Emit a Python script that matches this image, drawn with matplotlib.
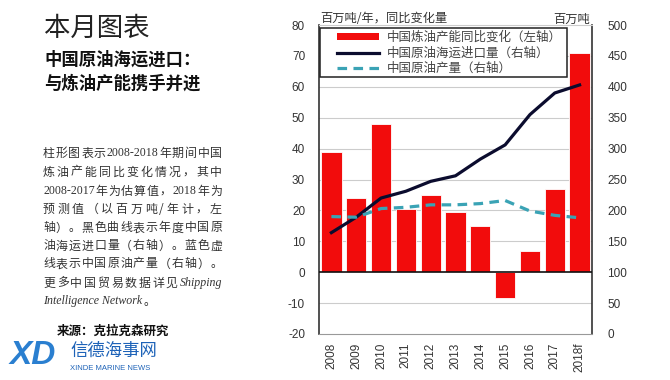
import matplotlib
matplotlib.use("Agg")
from matplotlib import pyplot as plt
from matplotlib.patches import Patch, Rectangle
from matplotlib.lines import Line2D
from matplotlib.font_manager import FontProperties

plt.rcParams['font.family'] = ['Liberation Sans', 'Noto Sans CJK SC', 'DejaVu Sans']

# data
years = ['2008', '2009', '2010', '2011', '2012', '2013', '2014', '2015', '2016', '2017', '2018f']
capacity_change = [39, 24, 48, 20.5, 25, 19.5, 15, -8.3, 6.8, 27, 70.8]      # left axis
seaborne_imports = [164, 189, 220, 231, 247, 256, 283, 306, 355, 390, 403]  # right axis
crude_output = [190, 189, 203, 205, 209, 209, 211, 216, 199, 192, 188]       # right axis

cjk = ['Noto Sans CJK SC', 'DejaVu Sans']
red = '#f20c0c'
navy = '#0b0c2e'
teal = '#3aa3b5'
W, H = 670, 380

fig = plt.figure(figsize=(6.7, 3.8), dpi=100)
fig.patch.set_facecolor('white')
renderer = fig.canvas.get_renderer()


def px(xp, yp):
    return xp / W, 1 - yp / H


# ---- left text panel ----
fig.text(*px(44, 28), '本月图表', family=cjk, fontsize=19, color='#222222', va='center')
fig.text(*px(44, 60), '中国原油海运进口：', family=cjk, fontsize=12.5,
         fontweight='bold', color='#111111', va='center')
fig.text(*px(44, 84), '与炼油产能携手并进', family=cjk, fontsize=12.5,
         fontweight='bold', color='#111111', va='center')

para = ['柱形图表示|2008-2018|年期间中国',
        '炼油产能同比变化情况，其中',
        '2008-2017|年为估算值，|2018|年为',
        '预测值（以百万吨/年计，左',
        '轴）。黑色曲线表示年度中国原',
        '油海运进口量（右轴）。蓝色虚',
        '线表示中国原油产量（右轴）。',
        '更多中国贸易数据详见|*Shipping']
ys = [153, 172, 191, 209, 228, 246, 264, 283]
fs = 8.6
p_cjk = FontProperties(family=cjk, size=fs)
p_lat = FontProperties(family=['Liberation Serif', 'DejaVu Serif'], size=fs)
p_ita = FontProperties(family=['Liberation Serif', 'DejaVu Serif'], style='italic', size=fs)
x0, x1 = 43, 222


def tokens(line):
    out = []
    for part in line.split('|'):
        if part.startswith('*'):
            out.append((part[1:], p_ita))
        elif part and part[0].isascii() and part[0] != '（':
            out.append((part, p_lat))
        else:
            for ch in part:
                out.append((ch, p_cjk))
    return out


for line, y in zip(para, ys):
    toks = tokens(line)
    arts = []
    for s, prop in toks:
        t = fig.text(0, 1 - y / H, s, fontproperties=prop, color='#333333', va='center')
        arts.append(t)
    widths = [a.get_window_extent(renderer).width for a in arts]
    gap = (x1 - x0 - sum(widths)) / max(len(arts) - 1, 1)
    xp = x0
    for a, w in zip(arts, widths):
        a.set_x(xp / W)
        xp += w + gap

fig.text(*px(43, 301), 'Intelligence Network', fontproperties=p_ita, color='#333333', va='center')
fig.text(*px(143, 301), '。', fontproperties=p_cjk, color='#333333', va='center')

fig.text(*px(57, 331), '来源：克拉克森研究', family=cjk, fontsize=9,
         fontweight='bold', color='#111111', va='center')

# watermark
fig.text(*px(10, 356), 'XD', fontsize=24, fontweight='bold', style='italic',
         color='#2a7fd0', va='center')
fig.text(*px(70, 351), '信德海事网', family=cjk, fontsize=12.5, color='#1e63b8', va='center')
fig.text(*px(70, 368), 'XINDE MARINE NEWS', fontsize=5.5, color='#1e63b8', va='center')

# ---- chart ----
ax = fig.add_axes([319 / W, 1 - 334 / H, 273 / W, 309 / H])
x = list(range(len(years)))
ax.bar(x, capacity_change, width=0.82, color=red, edgecolor='white', linewidth=0.6, zorder=2)
ax.set_xlim(-0.5, len(years) - 0.5)
ax.set_ylim(-20, 80)
ax.set_yticks(range(-20, 81, 10))
ax.set_yticklabels([str(v) for v in range(-20, 81, 10)])
for v in range(-10, 80, 10):
    if v != 0:
        ax.axhline(v, color='#cccccc', lw=0.8, zorder=1)
ax.axhline(0, color='#111111', lw=1.2, zorder=3)
ax.set_xticks(x)
ax.set_xticklabels(years, rotation=90)
ax.tick_params(axis='both', length=0, labelsize=8.5, labelcolor='#333333')
ax.tick_params(axis='y', pad=10)
ax.tick_params(axis='x', pad=6)
ax.spines['left'].set_color('#333333')
ax.spines['left'].set_linewidth(1.2)
ax.spines['right'].set_color('#333333')
ax.spines['right'].set_linewidth(1.2)
ax.spines['bottom'].set_color('#999999')
ax.spines['top'].set_color('#cccccc')

ax2 = ax.twinx()
ax2.set_ylim(0, 500)
ax2.set_yticks(range(0, 501, 50))
ax2.plot(x, seaborne_imports, color=navy, lw=2.3, zorder=4)
ax2.plot(x, crude_output, color=teal, lw=2.3, dashes=(3, 2), zorder=4)
ax2.tick_params(axis='y', length=0, labelsize=8.5, labelcolor='#333333', pad=11)
for s in ax2.spines.values():
    s.set_visible(False)

fig.text(*px(320, 19), '百万吨/年，同比变化量', family=cjk, fontsize=8.8,
         color='#333333', va='center')
fig.text(*px(590, 19), '百万吨', family=cjk, fontsize=8.8, color='#333333',
         va='center', ha='right')

# legend with its own frame
fig.patches.append(Rectangle((320 / W, 1 - 77 / H), 247 / W, 49 / H, transform=fig.transFigure,
                             facecolor='white', edgecolor='#222222', lw=1.1, zorder=5))
handles = [Patch(facecolor=red, edgecolor='none'),
           Line2D([], [], color=navy, lw=2.3),
           Line2D([], [], color=teal, lw=2.3, dashes=(3, 2))]
labels = ['中国炼油产能同比变化（左轴）', '中国原油海运进口量（右轴）', '中国原油产量（右轴）']
leg = fig.legend(handles, labels, loc='upper left', bbox_to_anchor=px(334, 28.5),
                 bbox_transform=fig.transFigure, prop={'family': cjk, 'size': 9},
                 frameon=False, borderaxespad=0, borderpad=0.2,
                 handlelength=3.4, handleheight=0.5, labelspacing=0.2,
                 handletextpad=0.6)
leg.set_zorder(6)
for t in leg.get_texts():
    t.set_color('#444444')

fig.savefig('out.png', dpi=100)
